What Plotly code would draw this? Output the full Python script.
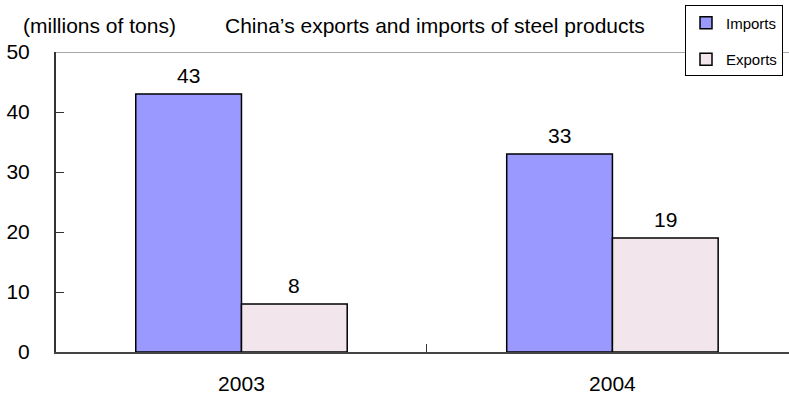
import plotly.graph_objects as go

years = ["2003", "2004"]
imports = [43, 33]
exports = [8, 19]
y_ticks = [0, 10, 20, 30, 40, 50]

IMPORT_COLOR = "#9999FF"
EXPORT_COLOR = "#F2E6EC"
FONT = "Liberation Sans, Arial, sans-serif"
BARGAP = 0.43

# pixel geometry of the page and plot area
W, H = 789, 395
pl, pr, pt, pb = 56, 0, 52, 40
pw, ph = W - pl - pr, H - pt - pb


def px(x):
    return (x - pl) / pw


def py(y):
    return (H - pb - y) / ph


fig = go.Figure()
fig.add_trace(go.Bar(
    x=years, y=imports, name="Imports", legendgroup="imp",
    marker=dict(color=IMPORT_COLOR, line=dict(color="black", width=1.5)),
))
fig.add_trace(go.Bar(
    x=years, y=exports, name="Exports", legendgroup="exp",
    marker=dict(color=EXPORT_COLOR, line=dict(color="black", width=1.5)),
))

# value labels above each bar
half = (1 - BARGAP) / 4
for i, (a, b) in enumerate(zip(imports, exports)):
    for off, v in ((-half, a), (half, b)):
        fig.add_annotation(x=i + off, y=v, text=str(v), showarrow=False,
                           yanchor="bottom", yshift=5,
                           font=dict(size=21, color="black", family=FONT))

# unit caption and title
fig.add_annotation(x=px(21), y=py(25), xref="paper", yref="paper",
                   text="(millions of tons)", showarrow=False,
                   xanchor="left", yanchor="middle",
                   font=dict(size=21, color="black", family=FONT))
fig.add_annotation(x=px(435), y=py(25), xref="paper", yref="paper",
                   text="China\u2019s exports and imports of steel products",
                   showarrow=False, xanchor="center", yanchor="middle",
                   font=dict(size=21, color="black", family=FONT))

# thin grey frame line along the top of the plot area
fig.add_shape(type="line", xref="paper", yref="y", x0=0, x1=1, y0=50, y1=50,
              line=dict(color="#888888", width=1.5), layer="below")

fig.update_layout(
    width=W, height=H,
    margin=dict(l=pl, r=pr, t=pt, b=pb),
    paper_bgcolor="white", plot_bgcolor="white",
    barmode="group", bargap=BARGAP, bargroupgap=0,
    font=dict(family=FONT, color="black"),
    showlegend=True,
    legend=dict(x=px(685), y=py(5), xanchor="left", yanchor="top",
                bgcolor="white", bordercolor="black", borderwidth=1,
                font=dict(size=15, family=FONT), tracegroupgap=14,
                itemwidth=30),
    xaxis=dict(type="category", range=[-0.5, 1.476], tickson="boundaries",
               ticks="inside", ticklen=8, tickcolor="#333333",
               showline=True, linecolor="#444444", linewidth=2,
               showgrid=False, tickfont=dict(size=21), ticklabelstandoff=12),
    yaxis=dict(range=[0, 50], tickvals=y_ticks, ticks="inside", ticklen=8,
               tickcolor="#333333", showline=True, linecolor="#333333", linewidth=2,
               showgrid=False, zeroline=False, tickfont=dict(size=21),
               ticklabelstandoff=20),
)

fig.write_html("out.html")
